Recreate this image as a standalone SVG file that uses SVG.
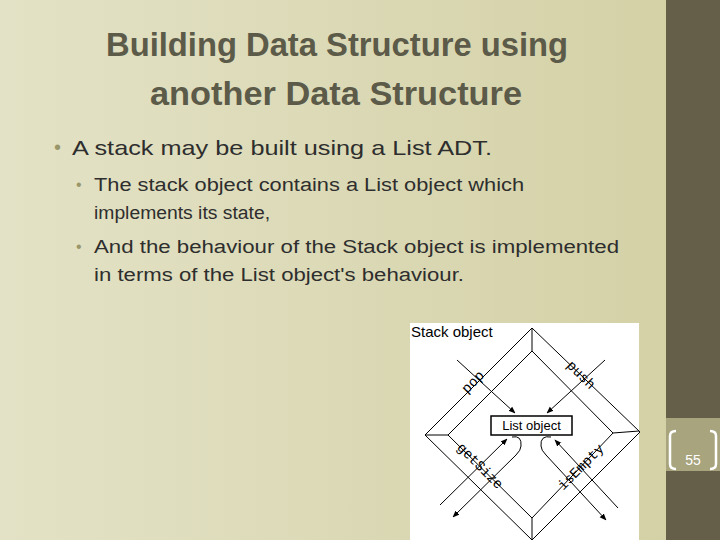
<svg xmlns="http://www.w3.org/2000/svg" width="720" height="540" viewBox="0 0 720 540">
<defs>
<linearGradient id="bg" x1="0" y1="0" x2="1" y2="0"><stop offset="0" stop-color="#e3e2c6"/><stop offset="1" stop-color="#d3d0a4"/></linearGradient>
<marker id="ah" viewBox="0 0 10 10" refX="9" refY="5" markerWidth="7" markerHeight="7" orient="auto"><path d="M0,1 L10,5 L0,9 z" fill="#000"/></marker>
<style>
.t{font-family:"Liberation Sans",Arial,sans-serif;fill:#5c5a48}
.b{font-family:"Liberation Sans",Arial,sans-serif;fill:#2e2e2e}
.d{font-family:"Liberation Sans",Arial,sans-serif;fill:#99976a}
.m{font-family:"Liberation Mono","DejaVu Sans Mono",monospace;font-size:14px;fill:#000}
.ln{stroke:#000;fill:none;stroke-width:1}
</style>
</defs>
<rect width="720" height="540" fill="url(#bg)"/>
<rect x="666" y="0" width="54" height="540" fill="#655e48"/>
<rect x="666" y="418" width="54" height="53" fill="#a8a47e"/>
<g fill="none" stroke="#fff" stroke-width="2.5"><path d="M676,431 Q670,431 670,436 V464 Q670,469 676,469"/><path d="M710,431 Q716,431 716,436 V464 Q716,469 710,469"/></g>
<text x="693" y="465" font-family="Liberation Sans,sans-serif" font-size="14" fill="#fff" text-anchor="middle">55</text>
<g id="title" class="t" font-weight="bold" font-size="33" text-anchor="middle">
<text x="337" y="56" textLength="462" lengthAdjust="spacingAndGlyphs">Building Data Structure using</text>
<text x="336" y="105" textLength="372" lengthAdjust="spacingAndGlyphs">another Data Structure</text>
</g>
<g id="bullets">
<text x="54" y="154" class="d" font-size="20">•</text>
<text x="72" y="155" class="b" font-size="21" textLength="420" lengthAdjust="spacingAndGlyphs">A stack may be built using a List ADT.</text>
<text x="76" y="190" class="d" font-size="16">•</text>
<text x="94" y="191" class="b" font-size="18" textLength="430" lengthAdjust="spacingAndGlyphs">The stack object contains a List object which</text>
<text x="94" y="219" class="b" font-size="18" textLength="176" lengthAdjust="spacingAndGlyphs">implements its state,</text>
<text x="76" y="252" class="d" font-size="16">•</text>
<text x="94" y="253" class="b" font-size="18" textLength="525" lengthAdjust="spacingAndGlyphs">And the behaviour of the Stack object is implemented</text>
<text x="94" y="281" class="b" font-size="18" textLength="370" lengthAdjust="spacingAndGlyphs">in terms of the List object's behaviour.</text>
</g>
<g id="figure">
<rect x="410" y="323" width="229" height="217" fill="#fff"/>
<text x="411" y="337" font-family="Liberation Sans,Arial,sans-serif" font-size="15" fill="#000">Stack object</text>
<g id="stack-object">
<polygon points="532,328 640,432 532,540 425,435" class="ln"/>
<polygon points="532,351 613,433 532,518 448,435" class="ln" stroke-width="2"/>
<g class="ln" stroke-width="2"><line x1="532" y1="328" x2="532" y2="351"/><line x1="425" y1="435" x2="448" y2="435"/><line x1="532" y1="518" x2="532" y2="540"/><line x1="613" y1="433" x2="639" y2="431"/></g>
</g>
<g id="list-object">
<rect x="491" y="416" width="81" height="19" fill="#fff" stroke="#000" stroke-width="1.5"/>
<text x="531.5" y="430" font-family="Liberation Sans,Arial,sans-serif" font-size="13" text-anchor="middle" fill="#000">List object</text>
</g>
<g id="connectors" class="ln">
<line x1="457" y1="360" x2="515" y2="413" marker-end="url(#ah)"/>
<line x1="605" y1="360" x2="547" y2="413" marker-end="url(#ah)"/>
<line x1="440" y1="505" x2="507" y2="439" marker-end="url(#ah)"/>
<path d="M512,437 Q522,435 521,446 Q521,450 516,455 L453,517" marker-end="url(#ah)"/>
<line x1="618" y1="508" x2="555" y2="440" marker-end="url(#ah)"/>
<path d="M551,437 Q540,435 541,446 Q541,450 546,455 L606,520" marker-end="url(#ah)"/>
</g>
<g id="labels">
<text class="m" transform="translate(476,385) rotate(-45)" text-anchor="middle">pop</text>
<text class="m" transform="translate(578,378) rotate(45)" text-anchor="middle">push</text>
<text class="m" transform="translate(477,469) rotate(45)" text-anchor="middle">getSize</text>
<text class="m" transform="translate(584,470) rotate(-45)" text-anchor="middle">isEmpty</text>
</g>
</g>
</svg>
